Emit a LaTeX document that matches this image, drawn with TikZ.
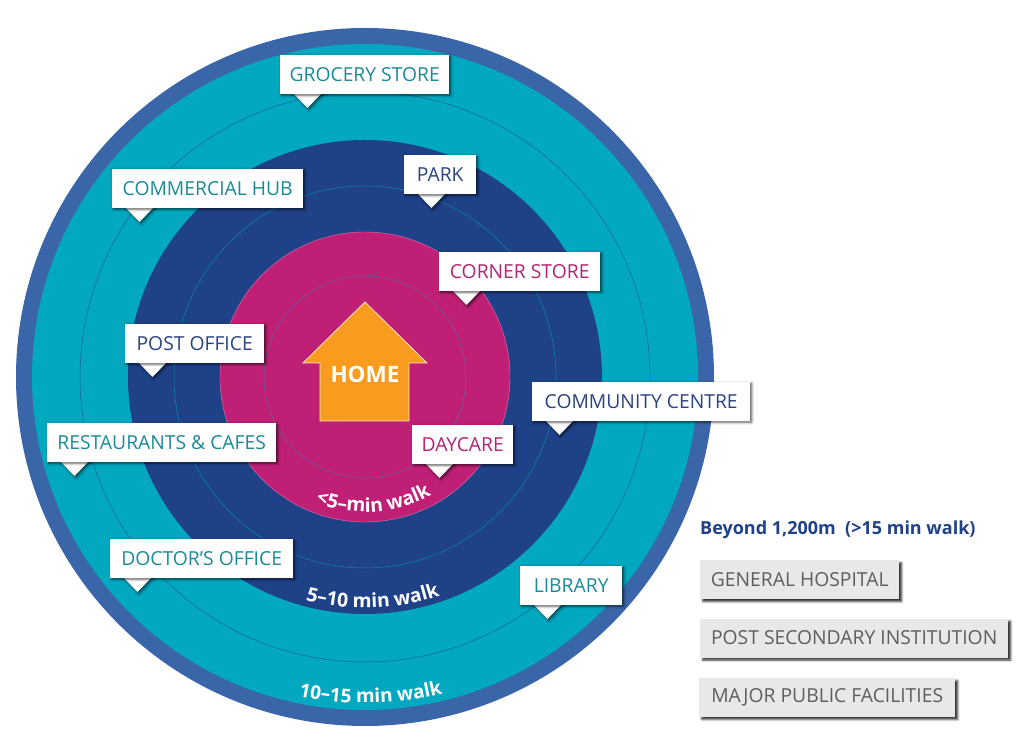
\documentclass[tikz,border=0pt]{standalone}
\usepackage{xcolor}
\usepackage{fontspec}
\setmainfont{Open Sans}
\usetikzlibrary{positioning, calc, shadows.blur, decorations.text}
\definecolor{ringouter}{HTML}{3A66A9}
\definecolor{ringteal}{HTML}{02A8C0}
\definecolor{ringnavy}{HTML}{1E4188}
\definecolor{ringpink}{HTML}{C01F76}
\definecolor{homeorange}{HTML}{F89B1E}
\definecolor{tealtext}{HTML}{1B8A98}
\definecolor{navytext}{HTML}{2A4480}
\definecolor{pinktext}{HTML}{B22474}
\definecolor{graytext}{HTML}{5E5E60}
\definecolor{graybox}{HTML}{E8E8EA}
\tikzset{
  softshadow/.style={blur shadow={shadow xshift=1.5pt, shadow yshift=-1.5pt, shadow blur radius=2.5pt, shadow opacity=65}},
  tagbox/.style={fill=white, minimum height=39, inner sep=0pt, anchor=south west,
    font=\fontsize{19.3}{21}\selectfont, softshadow},
  tagtip/.style={fill=white, softshadow},
  farbox/.style={fill=graybox, minimum height=39, inner sep=0pt,
    text=graytext, font=\fontsize{19.3}{21}\selectfont,
    blur shadow={shadow xshift=2.5pt, shadow yshift=-2.5pt, shadow blur radius=2pt, shadow opacity=80}},
  thinring/.style={line width=.5pt},
  walklabel/.style={decorate, decoration={text along path, text align=center, text={#1}}}
}
\newcommand{\walkfont}[1]{\fontsize{#1}{#1}\selectfont\bfseries\color{white}}
\begin{document}
\begin{tikzpicture}[x=1pt, y=1pt]
  \useasboundingbox (0,0) rectangle (1026,743);
  \coordinate (hub) at (365,366);
  \fill[ringouter] (hub) circle[radius=349];
  \fill[ringteal] (hub) circle[radius=333];
  \draw[thinring, draw=ringnavy!70!ringteal] (hub) circle[radius=285];
  \fill[ringnavy] (hub) circle[radius=237];
  \draw[thinring, draw=ringteal!70!ringnavy] (hub) circle[radius=191];
  \fill[ringpink, draw=ringpink!60!white, line width=.4pt] (hub) circle[radius=145];
  \draw[thinring, draw=ringpink!50!ringteal] (hub) circle[radius=101];

  \draw[fill=homeorange, draw=white!75!homeorange, line width=.8pt]
    (365,441) -- (427,380) -- (409,380) -- (409,322) -- (320,322) -- (320,380) -- (303,380) -- cycle;
  \node[text=white, font=\fontsize{22.5}{24}\selectfont\bfseries] (home) at (365,369) {HOME};

  \path[walklabel={|\walkfont{19.3}|<5–min walk}] (hub) ++(234:135) arc[start angle=234, end angle=314, radius=135];
  \path[walklabel={|\walkfont{19.3}|5–10 min walk}] (hub) ++(232:231) arc[start angle=232, end angle=312, radius=231];
  \path[walklabel={|\walkfont{19}|10–15 min walk}] (hub) ++(241:326) arc[start angle=241, end angle=301, radius=326];

  \foreach \tagname/\tagx/\tagy/\tagw/\tagcol/\tagtext in {
    grocery/280/649/169/tealtext/GROCERY STORE,
    commercial/112/535/191/tealtext/COMMERCIAL HUB,
    park/404/549/72/navytext/PARK,
    corner/439/452/161/pinktext/CORNER STORE,
    postoffice/125/380/139/navytext/POST OFFICE,
    community/532/322/218/navytext/COMMUNITY CENTRE,
    restaurants/47/281/229/tealtext/RESTAURANTS \& CAFES,
    daycare/412/279/101/pinktext/DAYCARE,
    doctor/110/165/183/tealtext/DOCTOR’S OFFICE,
    library/520/138/102/tealtext/LIBRARY}{
    \path[tagtip] (\tagx+13,\tagy+1) -- (\tagx+27.5,\tagy-14) -- (\tagx+42,\tagy+1) -- cycle;
    \node[tagbox, minimum width=\tagw, text=\tagcol] (\tagname) at (\tagx,\tagy) {\tagtext};
  }

  \node[anchor=west, inner sep=0pt, text=ringnavy, font=\fontsize{18}{20}\selectfont\bfseries] (beyond) at (700,213)
    {Beyond 1,200m\ \ (>15 min walk)};
  \node[farbox, minimum width=199, anchor=north west] (hospital) at (700,183) {GENERAL HOSPITAL};
  \node[farbox, minimum width=308, below=19pt of hospital.south west, anchor=north west] (institution) {POST SECONDARY INSTITUTION};
  \node[farbox, minimum width=256, below=20pt of institution.south west, anchor=north west, xshift=-1pt] (facilities) {MAJOR PUBLIC FACILITIES};
\end{tikzpicture}
\end{document}
